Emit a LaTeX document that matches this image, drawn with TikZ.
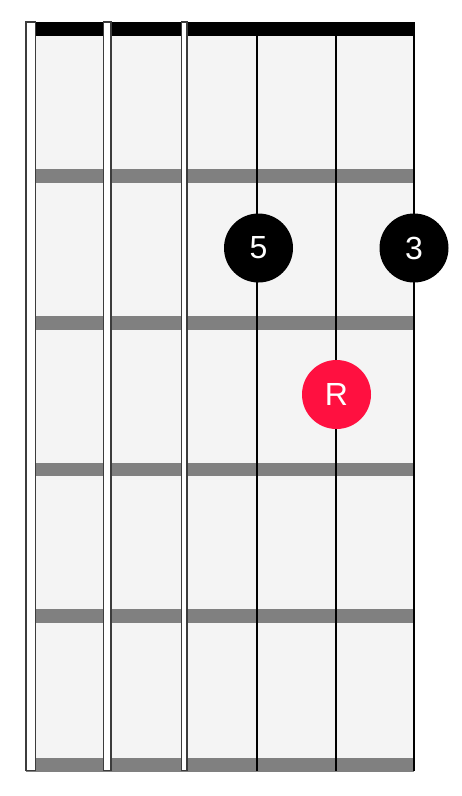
\documentclass[tikz,border=0pt]{standalone}
\usepackage{fontspec}
\setmainfont{Liberation Sans}
\definecolor{boardgray}{RGB}{244,244,244}
\definecolor{fretgray}{RGB}{128,128,128}
\definecolor{rootred}{RGB}{255,16,64}
\definecolor{edgegray}{RGB}{60,60,60}
\begin{document}
\begin{tikzpicture}[x=1pt,y=-1pt,
  fretbar/.style={fill=fretgray},
  wirestring/.style={draw=edgegray,line width=1.4pt,fill=white},
  thinstring/.style={draw=black,line width=2pt},
  dot/.style={circle,fill=black,minimum size=69pt,inner sep=0pt,text=white,font=\fontsize{32}{32}\selectfont},
  rootdot/.style={dot,fill=rootred}]
\useasboundingbox (0,0) rectangle (462,796);
% board
\fill[boardgray] (35,35) rectangle (413,770);
% nut
\fill[black] (35,22) rectangle (414,35.5);
% frets
\foreach \y in {169,316,462.5,609,758}
  \fill[fretgray] (26,\y) rectangle (414,\y+13.5);
% wound strings
\draw[wirestring] (25.8,22) rectangle (35.2,770.5);
\draw[wirestring] (103.3,22) rectangle (111.1,770.5);
\draw[wirestring] (181.5,22) rectangle (186.8,770.5);
% plain strings
\draw[thinstring] (257.3,22) -- (257.3,770.5);
\draw[thinstring] (335.6,22) -- (335.6,770.5);
\draw[thinstring] (413.8,22) -- (413.8,770.5);
% finger dots
\node[dot] (five) at (258.5,248) {5};
\node[dot] (three) at (414,248) {3};
\node[rootdot] (root) at (336.5,394.5) {R};
\end{tikzpicture}
\end{document}
